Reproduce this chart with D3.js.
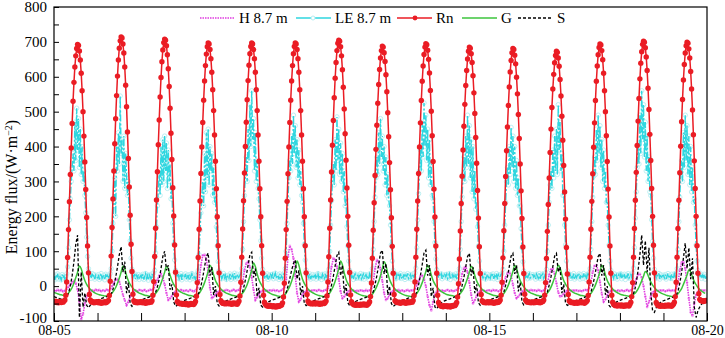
<!DOCTYPE html>
<html>
<head>
<meta charset="utf-8">
<script src="https://cdn.jsdelivr.net/npm/d3@7"></script>
<style>
  body { margin: 0; background: #fff; }
  svg { display: block; }
  text { font-family: "Liberation Serif", "Times New Roman", serif; }
</style>
</head>
<body>
<div id="chart-area"></div>
<script>
// tick labels
var dateLabels = ["08-05", "08-10", "08-15", "08-20"];
var nDays = 15;
var yTickValues = [-100, 0, 100, 200, 300, 400, 500, 600, 700, 800];
var seriesNames = ["H 8.7 m", "LE 8.7 m", "Rn", "G", "S"];

// net radiation, half-hourly (48 a day), W/m2
var rn = [
-44,-46,-43,-47,-45,-48,-46,-44,-47,-45,-46,-43,-40,-26,12,82,162,242,320,396,466,530,584,628,660,681,693,690,674,648,610,560,500,430,356,277,197,115,38,-24,-40,-44,-46,-45,-48,-46,-47,-45,
-46,-48,-45,-47,-49,-46,-48,-47,-45,-48,-46,-44,-41,-27,14,86,168,250,330,408,480,546,602,648,682,703,714,711,694,668,628,576,514,442,366,284,203,120,42,-23,-42,-46,-47,-45,-48,-46,-47,-45,
-47,-45,-48,-46,-47,-49,-45,-48,-46,-47,-45,-46,-42,-26,13,85,166,247,328,405,476,542,598,643,677,698,708,705,689,663,623,572,510,438,363,282,201,118,40,-25,-44,-48,-50,-49,-51,-50,-52,-50,
-51,-53,-50,-52,-54,-51,-53,-50,-52,-51,-53,-49,-44,-29,10,82,163,244,323,399,469,533,588,632,665,686,697,694,678,652,613,563,503,433,358,279,199,116,38,-24,-42,-47,-49,-50,-48,-51,-49,-50,
-50,-48,-51,-49,-52,-50,-48,-51,-49,-50,-52,-48,-43,-28,11,83,164,245,324,400,470,534,589,633,666,687,697,694,678,652,613,563,503,433,358,279,199,116,37,-26,-46,-52,-55,-57,-56,-58,-55,-57,
-57,-59,-56,-58,-60,-57,-59,-56,-58,-57,-55,-54,-48,-31,8,80,162,243,322,399,469,533,588,632,666,687,697,694,678,652,613,563,503,433,358,279,199,116,38,-24,-43,-48,-50,-49,-51,-50,-48,-51,
-50,-48,-51,-49,-50,-52,-49,-51,-50,-48,-50,-47,-43,-28,12,84,166,247,327,404,475,540,596,641,675,696,705,702,686,660,620,570,508,437,361,281,200,117,39,-25,-45,-50,-52,-54,-53,-55,-52,-54,
-53,-55,-52,-54,-53,-51,-54,-52,-53,-55,-52,-50,-45,-30,9,80,160,239,317,392,461,524,578,621,654,675,688,685,669,644,606,557,497,428,354,276,196,114,37,-24,-42,-45,-47,-46,-48,-46,-49,-47,
-47,-45,-48,-46,-49,-47,-45,-48,-46,-47,-45,-46,-41,-27,12,83,163,244,323,399,468,532,587,631,664,685,695,692,676,650,611,561,501,431,357,278,198,115,37,-26,-47,-53,-56,-58,-57,-59,-56,-58,
-58,-56,-59,-57,-58,-60,-56,-58,-57,-55,-56,-53,-47,-31,7,78,158,237,315,390,458,521,575,618,651,673,685,682,666,641,603,554,495,426,352,274,195,113,36,-24,-42,-45,-47,-46,-48,-47,-45,-48,
-47,-45,-48,-46,-47,-49,-46,-48,-45,-47,-46,-44,-40,-26,11,81,159,237,314,388,456,518,571,614,647,669,681,678,662,637,599,551,492,423,350,273,194,112,36,-23,-40,-44,-46,-45,-47,-46,-48,-46,
-46,-48,-45,-47,-46,-44,-47,-45,-48,-46,-45,-44,-40,-26,10,79,157,234,310,383,450,512,565,607,640,661,673,670,654,630,592,545,487,418,346,270,192,111,35,-24,-42,-45,-47,-46,-48,-47,-49,-47,
-47,-49,-46,-48,-47,-45,-48,-46,-47,-49,-46,-45,-41,-27,12,83,163,243,322,398,468,532,587,631,663,684,694,691,675,649,610,560,500,431,357,278,198,115,37,-26,-46,-51,-54,-56,-55,-57,-54,-56,
-55,-57,-54,-56,-58,-55,-57,-54,-56,-55,-57,-52,-46,-30,10,83,165,246,326,403,473,538,594,639,672,693,702,699,683,657,618,567,506,435,360,280,200,117,38,-26,-47,-52,-55,-57,-56,-58,-55,-57,
-56,-58,-55,-57,-56,-54,-57,-55,-56,-58,-55,-52,-46,-30,11,83,165,246,325,401,471,535,591,635,668,689,699,696,680,654,615,565,505,434,359,280,200,116,37,-22,-38,-41,-43,-42,-44,-42,-43,-41
];

// latent heat flux at 8.7 m, half-hourly
var le = [
28,18,32,22,35,20,30,25,18,33,24,29,20,27,35,55,110,190,250,300,340,380,330,470,360,510,390,480,340,450,320,400,300,330,260,210,140,85,50,38,30,22,36,25,33,20,31,26,
24,33,19,29,36,22,27,31,18,34,25,30,21,28,36,50,100,180,240,310,200,400,330,440,350,545,380,420,300,430,280,380,320,260,300,190,130,80,48,35,27,35,20,30,24,33,19,28,
31,22,34,19,28,36,23,30,17,32,26,21,35,24,38,45,95,170,230,280,320,260,400,290,420,300,430,330,410,280,390,300,350,250,280,180,120,75,45,32,25,34,21,29,36,18,30,24,
27,35,20,31,24,33,18,29,36,22,30,25,19,33,37,45,90,160,210,260,300,230,380,270,440,310,450,290,400,330,380,260,340,240,260,170,115,70,44,30,33,21,29,36,24,31,19,27,
30,23,35,19,28,32,24,37,20,29,34,22,27,31,36,50,105,185,260,320,370,300,450,360,520,400,560,420,480,330,440,300,360,280,250,190,130,80,48,34,22,31,27,35,19,30,25,33,
26,34,21,30,37,23,28,32,19,35,24,29,22,33,38,50,100,180,250,310,360,330,430,350,490,380,460,340,420,310,390,290,330,260,240,180,120,75,46,32,30,24,35,20,28,33,22,29,
32,20,29,36,23,31,26,19,34,28,22,35,25,30,36,48,100,175,245,300,350,290,420,330,485,360,450,320,410,300,380,270,330,230,250,170,115,72,45,32,26,33,19,30,35,22,28,31,
23,31,36,21,27,34,20,29,33,25,30,19,35,28,37,50,105,185,255,310,370,320,440,350,480,370,430,330,400,290,370,260,320,250,230,175,118,72,45,33,29,21,34,27,32,24,36,22,
30,25,34,19,31,28,36,22,27,33,20,29,35,24,38,52,110,190,265,330,390,330,470,370,525,400,490,360,450,310,420,290,350,260,250,185,125,78,47,34,24,32,28,35,21,30,26,33,
27,34,22,30,36,19,28,33,25,31,23,35,20,29,37,50,105,185,255,320,370,300,430,340,490,350,460,310,420,270,400,250,330,220,240,170,115,72,44,32,31,23,29,35,20,27,34,25,
29,22,33,27,35,21,30,24,36,19,32,26,28,34,36,48,100,175,240,300,340,290,400,320,455,340,430,300,400,280,360,260,310,230,230,165,110,70,43,31,25,33,21,30,36,23,28,32,
33,26,30,20,34,28,23,36,21,31,27,35,22,29,37,48,100,175,240,290,330,280,390,310,430,330,450,320,520,390,470,330,380,260,260,175,118,72,44,32,28,34,22,31,25,36,20,29,
24,31,27,35,20,33,29,22,36,26,30,19,34,28,38,50,105,185,255,315,370,320,450,360,490,380,460,340,420,300,390,280,330,240,240,175,118,72,45,33,30,22,35,26,32,20,29,34,
28,35,21,30,26,34,19,32,27,36,23,29,33,25,38,52,110,195,270,340,400,350,490,380,560,420,520,370,470,330,430,300,370,270,260,190,128,80,48,35,23,31,28,36,20,33,26,30,
31,24,33,20,29,36,25,30,22,34,27,21,35,28,37,50,105,185,255,320,360,300,440,340,490,360,460,320,430,290,400,270,340,240,250,175,118,72,45,33,29,35,22,31,26,34,20,28
];

// sensible heat flux at 8.7 m, hourly
var h = [
-12,-15,-10,-14,-11,-16,-13,-8,-2,5,10,15,8,-10,-45,-95,-80,-50,-30,-20,-15,-12,-14,-10,
-13,-11,-15,-12,-14,-10,-13,-9,0,10,18,20,12,-5,-25,-40,-55,-45,-30,-20,-14,-12,-15,-11,
-12,-14,-11,-15,-13,-10,-12,-7,5,18,30,35,25,5,-20,-40,-35,-28,-20,-15,-13,-14,-11,-13,
-14,-12,-15,-11,-13,-16,-12,-6,15,60,88,90,75,40,-5,-35,-30,-25,-18,-15,-12,-14,-13,-11,
-12,-15,-13,-10,-14,-12,-11,-5,10,45,65,70,55,25,-10,-40,-32,-22,-16,-13,-15,-12,-14,-12,
-13,-11,-14,-12,-15,-13,-10,-4,20,85,115,105,80,30,-20,-45,-38,-25,-18,-14,-12,-15,-13,-12,
-12,-14,-11,-13,-15,-12,-11,-6,12,55,80,75,55,20,-15,-35,-30,-22,-16,-13,-14,-12,-15,-13,
-14,-12,-13,-15,-11,-14,-12,-6,10,50,75,70,50,15,-20,-40,-35,-25,-17,-14,-12,-13,-11,-14,
-12,-15,-13,-11,-14,-12,-13,-8,2,15,28,30,20,0,-30,-55,-70,-45,-25,-16,-13,-14,-12,-15,
-13,-11,-14,-12,-15,-13,-11,-6,8,35,52,55,40,10,-25,-50,-40,-28,-18,-14,-12,-13,-15,-12,
-12,-14,-11,-13,-12,-15,-12,-7,5,25,38,40,30,5,-20,-35,-30,-22,-16,-13,-14,-12,-13,-11,
-13,-12,-14,-11,-13,-15,-12,-6,8,32,48,50,35,8,-18,-30,-28,-22,-16,-13,-12,-14,-12,-13,
-12,-14,-13,-15,-12,-11,-13,-6,10,40,58,60,45,12,-22,-45,-38,-26,-17,-14,-12,-13,-15,-12,
-14,-12,-15,-13,-11,-14,-12,-7,4,20,33,35,25,0,-30,-60,-45,-30,-18,-15,-13,-14,-12,-13,
-12,-15,-13,-11,-14,-12,-13,-6,10,45,68,70,50,10,-35,-75,-85,-50,-25,-16,-14,-12,-13,-12
];

// soil heat flux, hourly
var g = [
-18,-20,-22,-24,-25,-26,-26,-25,-20,-13,-4,9,24,40,58,50,31,16,5,-3,-9,-14,-18,-21,
-23,-25,-26,-27,-28,-28,-27,-25,-20,-13,-4,8,23,40,57,49,30,15,5,-3,-9,-13,-17,-20,
-22,-24,-26,-27,-28,-29,-28,-26,-21,-14,-5,8,23,40,57,49,31,16,5,-3,-9,-14,-17,-20,
-22,-24,-26,-27,-28,-29,-28,-26,-21,-13,-3,10,25,42,60,51,32,16,6,-2,-8,-13,-17,-20,
-22,-24,-26,-27,-28,-29,-28,-25,-20,-12,-2,12,28,46,66,56,35,18,7,-2,-8,-13,-17,-20,
-23,-25,-26,-28,-29,-30,-29,-26,-20,-11,0,14,31,50,72,60,38,20,8,-1,-8,-13,-17,-20,
-23,-25,-27,-28,-29,-30,-29,-26,-20,-11,0,14,31,50,72,61,38,20,8,-1,-8,-13,-17,-20,
-23,-25,-27,-28,-29,-30,-29,-26,-20,-11,0,13,30,49,70,59,37,19,7,-2,-8,-13,-17,-20,
-23,-25,-27,-28,-29,-30,-29,-26,-21,-13,-3,10,25,42,60,51,32,16,6,-2,-8,-13,-17,-20,
-23,-25,-26,-27,-28,-29,-28,-26,-21,-14,-5,8,23,40,57,49,30,15,5,-3,-9,-13,-17,-20,
-22,-24,-26,-27,-28,-29,-28,-26,-21,-13,-3,10,25,42,60,51,32,16,6,-2,-8,-13,-17,-20,
-22,-24,-26,-27,-28,-28,-27,-25,-20,-13,-3,10,25,42,60,52,32,16,6,-2,-8,-13,-17,-20,
-22,-24,-26,-27,-28,-29,-28,-26,-21,-13,-3,10,25,42,60,51,32,16,6,-2,-8,-13,-17,-20,
-23,-25,-26,-27,-28,-29,-28,-26,-22,-16,-8,3,15,28,42,37,24,12,3,-4,-10,-14,-18,-21,
-23,-25,-27,-28,-29,-30,-29,-27,-22,-15,-7,5,18,32,47,41,26,13,4,-4,-10,-14,-18,-21
];

// heat storage, hourly
var s = [
-30,-32,-34,-36,-37,-38,-36,-30,-20,0,30,70,120,146,-90,40,-60,-20,-55,-62,-55,-50,-46,-42,
-40,-38,-36,-34,-32,-30,-28,-25,-18,0,25,55,90,113,40,70,-20,10,-50,-58,-52,-48,-45,-42,
-40,-38,-36,-34,-32,-30,-28,-25,-18,-2,20,50,85,100,45,60,-10,5,-45,-58,-55,-50,-46,-43,
-41,-39,-37,-35,-33,-31,-29,-26,-18,0,25,55,85,95,30,55,-25,0,-50,-57,-52,-48,-45,-42,
-40,-38,-36,-34,-32,-30,-28,-25,-16,5,30,60,90,97,25,50,-30,-5,-55,-60,-55,-50,-46,-43,
-41,-39,-37,-35,-33,-31,-29,-26,-18,0,22,45,65,75,20,45,-25,0,-50,-56,-52,-48,-45,-42,
-40,-38,-36,-34,-32,-30,-28,-25,-17,3,28,58,88,97,30,60,-20,5,-48,-56,-52,-48,-45,-42,
-40,-38,-36,-34,-32,-30,-28,-25,-16,5,30,62,95,103,35,65,-25,0,-50,-58,-54,-50,-46,-43,
-41,-39,-37,-35,-33,-31,-29,-26,-17,4,30,62,95,103,30,60,-30,-5,-60,-65,-56,-50,-46,-43,
-41,-39,-37,-35,-33,-31,-29,-26,-18,2,26,55,85,94,30,55,-20,5,-48,-55,-51,-47,-44,-42,
-40,-38,-36,-34,-32,-30,-28,-25,-17,3,27,56,86,94,35,60,-15,10,-45,-54,-50,-47,-44,-41,
-40,-38,-36,-34,-32,-30,-28,-25,-17,3,27,56,86,94,40,55,-20,5,-48,-55,-52,-48,-45,-42,
-41,-39,-37,-35,-33,-31,-29,-26,-18,2,26,55,85,94,30,60,-25,0,-55,-62,-56,-50,-46,-43,
-41,-39,-37,-35,-33,-31,-29,-25,-15,10,45,90,146,60,130,40,110,-20,-70,-75,-62,-54,-48,-44,
-42,-40,-38,-36,-34,-32,-30,-26,-15,8,40,80,123,50,110,20,80,-60,-90,-70,-60,-52,-46,-44
];

var margin = { left: 54, right: 18, top: 7, bottom: 17 };
var W = 725, H = 338;
var width = W - margin.left - margin.right,
    height = H - margin.top - margin.bottom;

var svg = d3.select("#chart-area").append("svg")
    .attr("width", W)
    .attr("height", H);

var g0 = svg.append("g")
    .attr("transform", "translate(" + margin.left + "," + margin.top + ")");

var x = d3.scaleLinear().domain([0, nDays]).range([0, width]);
var y = d3.scaleLinear().domain([-100, 800]).range([height, 0]);

// turn index into time in days
function toPoints(arr, perDay) {
    return arr.map(function (v, i) { return { t: i / perDay, v: v }; });
}

var line = d3.line()
    .x(function (d) { return x(d.t); })
    .y(function (d) { return y(d.v); });

g0.append("clipPath").attr("id", "clip")
  .append("rect").attr("width", width).attr("height", height);

var plot = g0.append("g").attr("clip-path", "url(#clip)");

var leData = toPoints(le, 48),
    hData = toPoints(h, 24),
    gData = toPoints(g, 24),
    sData = toPoints(s, 24),
    rnData = toPoints(rn, 48);

// LE: cyan dash-dot with pale open circles
plot.append("g").selectAll("circle")
    .data(leData).enter().append("circle")
    .attr("cx", function (d) { return x(d.t); })
    .attr("cy", function (d) { return y(d.v); })
    .attr("r", 2.2)
    .attr("fill", "none")
    .attr("stroke", "#bdf0f3")
    .attr("stroke-width", 1);
plot.append("path").datum(leData)
    .attr("d", line)
    .attr("fill", "none")
    .attr("stroke", "#2fd6df")
    .attr("stroke-width", 1.4)
    .attr("stroke-dasharray", "7,2,2,2");

// H: magenta dotted
plot.append("g").selectAll("circle")
    .data(hData).enter().append("circle")
    .attr("cx", function (d) { return x(d.t); })
    .attr("cy", function (d) { return y(d.v); })
    .attr("r", 1.4)
    .attr("fill", "#f3a6f1");
plot.append("path").datum(hData)
    .attr("d", line)
    .attr("fill", "none")
    .attr("stroke", "#e03ce0")
    .attr("stroke-width", 1.6)
    .attr("stroke-dasharray", "1.5,1");

// G
plot.append("path").datum(gData)
    .attr("d", line.curve(d3.curveMonotoneX))
    .attr("fill", "none")
    .attr("stroke", "#3cc43c")
    .attr("stroke-width", 1.5);
line.curve(d3.curveLinear);

// S
plot.append("path").datum(sData)
    .attr("d", line)
    .attr("fill", "none")
    .attr("stroke", "#000")
    .attr("stroke-width", 1.3)
    .attr("stroke-dasharray", "3,2");

// Rn: red line with dots
plot.append("path").datum(rnData)
    .attr("d", line)
    .attr("fill", "none")
    .attr("stroke", "#ea1c24")
    .attr("stroke-width", 1.5);
plot.append("g").selectAll("circle")
    .data(rnData).enter().append("circle")
    .attr("cx", function (d) { return x(d.t); })
    .attr("cy", function (d) { return y(d.v); })
    .attr("r", 2.7)
    .attr("fill", "#ea1c24");

// frame
g0.append("rect")
    .attr("width", width).attr("height", height)
    .attr("fill", "none").attr("stroke", "#000").attr("stroke-width", 1.2);

// Y axis, ticks every 50 pointing inward
var yAxis = d3.axisLeft(y)
    .tickValues(d3.range(-100, 801, 50))
    .tickSize(-5)
    .tickPadding(7)
    .tickFormat(function (d) { return yTickValues.indexOf(d) >= 0 ? d : ""; });
var yG = g0.append("g").call(yAxis);
yG.select(".domain").remove();
yG.selectAll("text").attr("font-size", "15px").attr("fill", "#000")
    .attr("font-family", "Liberation Serif, serif");
// lift the bottom label a touch so it clears the date below
yG.selectAll(".tick").filter(function (d) { return d === -100; })
    .select("text").attr("dy", "0.12em");

// X axis, daily ticks pointing inward
var xAxis = d3.axisBottom(x)
    .tickValues(d3.range(0, nDays + 1))
    .tickSize(-8)
    .tickPadding(4)
    .tickFormat(function (d) { return d % 5 === 0 ? dateLabels[d / 5] : ""; });
var xG = g0.append("g")
    .attr("transform", "translate(0," + height + ")")
    .call(xAxis);
xG.select(".domain").remove();
xG.selectAll("text").attr("font-size", "14px").attr("fill", "#000")
    .attr("font-family", "Liberation Serif, serif");

// Y label
var yl = svg.append("text")
    .attr("transform", "translate(17," + 187 + ") rotate(-90)")
    .attr("text-anchor", "middle")
    .attr("font-size", "16px")
    .attr("fill", "#000");
yl.append("tspan").text("Energy flux/(W\u00b7m");
yl.append("tspan").attr("baseline-shift", "super").attr("font-size", "10px").text("\u22122");
yl.append("tspan").text(")");

// legend
var legendX = [200, 296, 397, 462, 518];
var lg = svg.append("g");
function legendLine(i, stroke, dash, width_) {
    lg.append("line")
        .attr("x1", legendX[i]).attr("x2", legendX[i] + 35)
        .attr("y1", 18).attr("y2", 18)
        .attr("stroke", stroke)
        .attr("stroke-width", width_)
        .attr("stroke-dasharray", dash);
    lg.append("text")
        .attr("x", legendX[i] + 39).attr("y", 23)
        .attr("font-size", "15px")
        .attr("fill", "#000")
        .text(seriesNames[i]);
}
legendLine(0, "#e03ce0", "1.5,1", 1.6);
legendLine(1, "#2fd6df", null, 1.4);
lg.append("circle").attr("cx", legendX[1] + 17).attr("cy", 18).attr("r", 2)
    .attr("fill", "#fff").attr("stroke", "#b4eef2");
legendLine(2, "#ea1c24", null, 1.5);
lg.append("circle").attr("cx", legendX[2] + 18).attr("cy", 18).attr("r", 2.4).attr("fill", "#ea1c24");
legendLine(3, "#3cc43c", null, 1.5);
legendLine(4, "#000", "3,2", 1.3);
</script>
</body>
</html>
